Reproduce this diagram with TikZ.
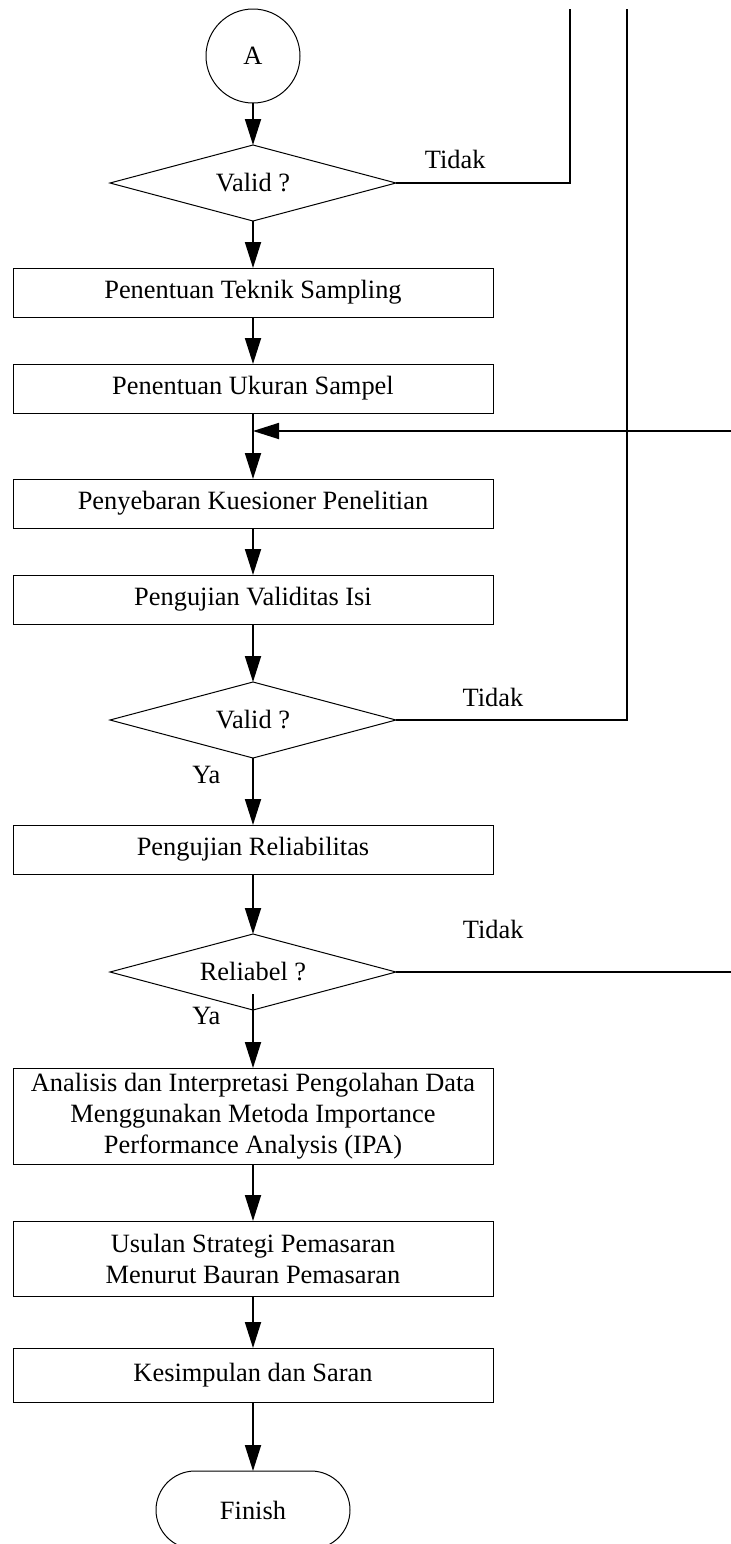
\documentclass[tikz,border=0pt]{standalone}
\usepackage{fontspec}
\setmainfont{Liberation Serif}
\usetikzlibrary{arrows.meta, positioning, shapes.geometric}

\begin{document}
\begin{tikzpicture}[
        > = {Triangle[length=13pt, width=8pt]}, % arrow head style
        node distance = 23.5pt, % distance between nodes
        line width=0.9pt, % line style
        font=\fontsize{13.2}{15.5}\selectfont
    ]
        \tikzstyle{proses}=[
            draw,
            line width = 0.5pt,
            minimum width = 240pt,
            minimum height = 24.5pt,
            inner sep = 0pt,
            outer sep = 0pt,
            align = center
        ]
        \tikzstyle{keputusan}=[
            draw,
            diamond,
            aspect = 4,
            line width = 0.5pt,
            minimum width = 143pt,
            minimum height = 38pt,
            inner sep = 0pt,
            outer sep = 0pt
        ]
        \useasboundingbox (0,0) rectangle (365.5pt,-772pt);

        \node[circle, draw, line width=0.5pt, minimum size=47pt, inner sep=0pt, outer sep=0pt] (a) at (126.5pt,-28pt) {A};
        \node[keputusan] (valid1) [below=21pt of a] {Valid ?};
        \node[proses] (sampling) [below=23.5pt of valid1] {Penentuan Teknik Sampling};
        \node[proses] (ukuran) [below=23.5pt of sampling] {Penentuan Ukuran Sampel};
        \node[proses] (sebar) [below=33pt of ukuran] {Penyebaran Kuesioner Penelitian};
        \node[proses] (isi) [below=23.5pt of sebar] {Pengujian Validitas Isi};
        \node[keputusan] (valid2) [below=29pt of isi] {Valid ?};
        \node[proses] (reliabilitas) [below=33.5pt of valid2] {Pengujian Reliabilitas};
        \node[keputusan] (reliabel) [below=30pt of reliabilitas] {Reliabel ?};
        \node[proses, minimum height=48pt] (analisis) [below=29pt of reliabel] {
        Analisis dan Interpretasi Pengolahan Data\\
        Menggunakan Metoda Importance\\
        Performance Analysis (IPA)};
        \node[proses, minimum height=37.5pt] (usulan) [below=28.5pt of analisis] {
        Usulan Strategi Pemasaran\\
        Menurut Bauran Pemasaran};
        \node[proses, minimum height=27pt] (saran) [below=26pt of usulan] {Kesimpulan dan Saran};
        \node[draw, line width=0.5pt, rounded corners=19.5pt, minimum width=97pt, minimum height=39pt, outer sep=0pt] (finish) [below=34.5pt of saran] {Finish};

        % ujung garis di luar halaman
        \coordinate (atas1) at (285pt,-4.5pt);
        \coordinate (atas2) at (313.5pt,-4.5pt);
        \coordinate (kanan1) at (365.5pt,-215.5pt);
        \coordinate (kanan2) at (365.5pt,0pt);

        \draw[->] (a) -- (valid1);
        \draw[->] (valid1) -- (sampling);
        \draw[->] (sampling) -- (ukuran);
        \draw[->] (ukuran) -- (sebar);
        \draw[->] (kanan1) -- (kanan1 -| sebar.north);
        \draw[->] (sebar) -- (isi);
        \draw[->] (isi) -- (valid2);
        \draw[->] (valid2) -- node[left=12.5pt, pos=0.25] {Ya} (reliabilitas);
        \draw[->] (reliabilitas) -- (reliabel);
        \draw[->] ([yshift=8pt]reliabel.south) -- node[left=12.5pt, pos=0.3] {Ya} (analisis);
        \draw[->] (analisis) -- (usulan);
        \draw[->] (usulan) -- (saran);
        \draw[->] (saran) -- (finish);

        \draw (valid1.east) -| node[above=3.5pt, pos=0.17] {Tidak} (atas1);
        \draw (valid2.east) -| node[above=3pt, pos=0.21] {Tidak} (atas2);
        \draw (reliabel.east) -- node[above=12.8pt, pos=0.29] {Tidak} (reliabel.east -| kanan2);
    \end{tikzpicture}
\end{document}
